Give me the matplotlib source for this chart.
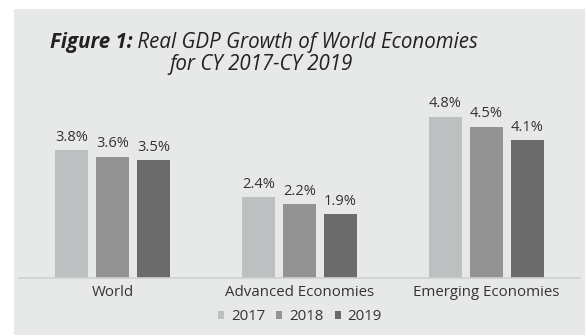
import matplotlib
matplotlib.use("Agg")
import matplotlib.pyplot as plt
from matplotlib.patches import Rectangle, Patch
import numpy as np

categories = ["World", "Advanced Economies", "Emerging Economies"]
years = ["2017", "2018", "2019"]
growth_2017 = [3.8, 2.4, 4.8]
growth_2018 = [3.6, 2.2, 4.5]
growth_2019 = [3.5, 1.9, 4.1]
series = [growth_2017, growth_2018, growth_2019]
colors = ["#bebfc0", "#939393", "#6b6b6c"]

plt.rcParams["font.family"] = ["Open Sans", "DejaVu Sans"]
text_color = "#333333"

W, H = 587, 335
fig = plt.figure(figsize=(W / 100, H / 100), dpi=100)
fig.patch.set_facecolor("white")
# grey panel behind the chart
fig.patches.append(Rectangle((14 / W, 0), (585 - 14) / W, (H - 9) / H,
                             transform=fig.transFigure, facecolor="#e7e8e8",
                             edgecolor="none", zorder=-10))

ax = fig.add_axes([19 / W, (H - 278) / H, (580 - 19) / W, (278 - 110) / H])
ax.set_facecolor("none")
ax.set_xlim(-0.5, 2.5)
ax.set_ylim(0, 5)

x = np.arange(len(categories))
bw = 0.1765
step = 0.219
for i, (vals, c, yr) in enumerate(zip(series, colors, years)):
    pos = x + (i - 1) * step
    bars = ax.bar(pos, vals, width=bw, color=c, label=yr, zorder=2)
    for b, v in zip(bars, vals):
        ax.annotate(f"{v:.1f}%", (b.get_x() + b.get_width() / 2, v),
                    xytext=(0, 4), textcoords="offset points",
                    ha="center", va="bottom", fontsize=10.5, color=text_color)

for s in ["top", "right", "left"]:
    ax.spines[s].set_visible(False)
ax.spines["bottom"].set_color("#d0d0d0")
ax.spines["bottom"].set_linewidth(1.2)
ax.set_yticks([])
ax.set_xticks(x)
ax.set_xticklabels(categories, fontsize=10.8, color=text_color)
ax.tick_params(axis="x", length=0, pad=5)

handles = [Patch(facecolor=c, edgecolor="none") for c in colors]
ax.legend(handles, years, loc="center", bbox_to_anchor=(300 / W, (H - 317) / H),
          bbox_transform=fig.transFigure, ncol=3, frameon=False,
          fontsize=10.8, handlelength=0.4, handleheight=0.4,
          handletextpad=0.45, columnspacing=0.75, labelcolor=text_color)

# title: bold-italic lead followed by italic text on the first line
title_size = 14.8
t1 = fig.text(0, (H - 48) / H, "Figure 1:", fontsize=title_size, fontweight="bold",
              fontstyle="italic", color="#222222", ha="left", va="baseline")
t2 = fig.text(0, (H - 48) / H, " Real GDP Growth of World Economies",
              fontsize=title_size, fontstyle="italic", color="#222222",
              ha="left", va="baseline")
fig.text(261 / W, (H - 70) / H, "for CY 2017-CY 2019", fontsize=title_size,
         fontstyle="italic", color="#222222", ha="center", va="baseline")

fig.canvas.draw()
r = fig.canvas.get_renderer()
w1 = t1.get_window_extent(r).width
w2 = t2.get_window_extent(r).width
start = 264 - (w1 + w2) / 2
t1.set_x(start / W)
t2.set_x((start + w1) / W)

fig.savefig("out.png", dpi=100)
